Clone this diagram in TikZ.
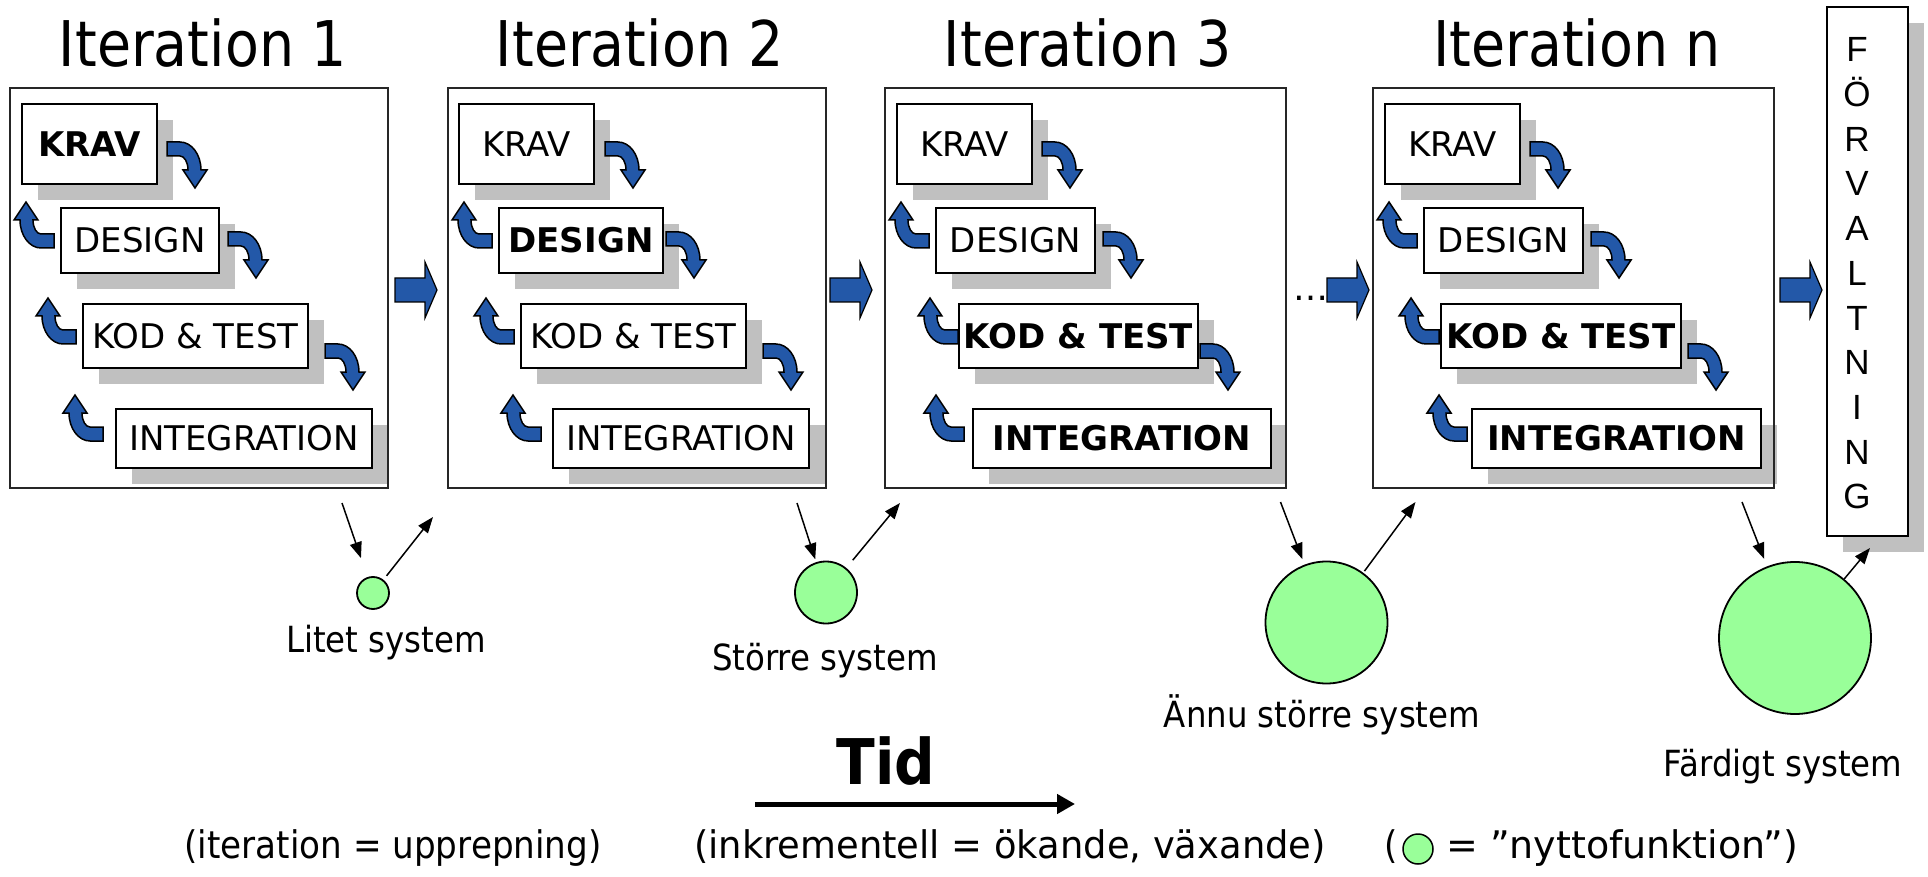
\documentclass[tikz,border=0pt]{standalone}
\usepackage{fontspec}
\setmainfont{DejaVu Sans}
\newfontfamily\narrowfont[FakeStretch=0.9]{DejaVu Sans}
\newfontfamily\midfont[FakeStretch=0.97]{DejaVu Sans}
\newfontfamily\titlefont[FakeStretch=0.88]{DejaVu Sans}
\newfontfamily\arialfont{Liberation Sans}
\usetikzlibrary{shadows,arrows.meta,calc}

\definecolor{stepblue}{HTML}{2358A8}
\definecolor{shadowgray}{HTML}{C0C0C0}
\definecolor{sysgreen}{HTML}{99FF99}

\tikzset{
  % curved blue arrow between two phase boxes (tail top-left at the origin)
  pics/bendarrow/.style={code={
    \draw[fill=stepblue, draw=black, line width=1.5pt, line join=miter]
      (0,0) -- (13,0) arc[start angle=-90, end angle=0, x radius=21, y radius=28]
      -- (40,28) -- (28,46) -- (16,28) -- (21,28)
      arc[start angle=0, end angle=-90, x radius=8, y radius=14] -- (0,14) -- cycle;
  }},
  % wide block arrow between iterations (tail middle at the origin)
  pics/blockarrow/.style={code={
    \draw[fill=stepblue, draw=black, line width=1.2pt, line join=miter]
      (0,-12) -- (30,-12) -- (30,-28) -- (42,0) -- (30,28) -- (30,12) -- (0,12) -- cycle;
  }},
  outerbox/.style={draw=black!85, line width=2pt, minimum height=400, inner sep=0},
  phase/.style={draw=black, line width=1.8pt, fill=white, inner sep=0,
    font=\fontsize{34}{40}\selectfont,
    drop shadow={shadow xshift=16pt, shadow yshift=-16pt, fill=shadowgray, opacity=1}},
  title/.style={anchor=base, inner sep=0, font=\titlefont\fontsize{63}{70}\selectfont},
  syslabel/.style={anchor=base, inner sep=0, font=\narrowfont\fontsize{36}{40}\selectfont},
  bottomtext/.style={inner sep=0, font=\narrowfont\fontsize{38}{44}\selectfont},
  system/.style={circle, draw=black, line width=1.8pt, fill=sysgreen, inner sep=0},
  thinarrow/.style={-{Triangle[length=16pt,width=12pt]}, line width=1.5pt},
}

\begin{document}
\begin{tikzpicture}[x=1pt,y=-1pt]
\fill[white] (0,0) rectangle (1928,877);
\useasboundingbox (0,0) rectangle (1928,877);

% ---- phase boxes, iteration 1
\node[phase, minimum width=135, minimum height=80] (k1) at (89.5,144) {\bfseries KRAV};
\node[phase, minimum width=158, minimum height=65] (d1) at (140,240.5) {DESIGN};
\node[phase, minimum width=225, minimum height=64] (t1) at (195.5,336) {KOD \& TEST};
\node[phase, minimum width=256, minimum height=59] (g1) at (244,438.5) {INTEGRATION};

% ---- iteration 2
\node[phase, minimum width=135, minimum height=80] (k2) at (526.5,144) {KRAV};
\node[phase, minimum width=164, minimum height=65] (d2) at (581,240.5) {\bfseries DESIGN};
\node[phase, minimum width=225, minimum height=64] (t2) at (633.5,336) {KOD \& TEST};
\node[phase, minimum width=256, minimum height=59] (g2) at (681,438.5) {INTEGRATION};

% ---- iteration 3
\node[phase, minimum width=135, minimum height=80] (k3) at (964.5,144) {KRAV};
\node[phase, minimum width=159, minimum height=65] (d3) at (1015.5,240.5) {DESIGN};
\node[phase, minimum width=239, minimum height=64] (t3) at (1078.5,336) {\bfseries KOD \& TEST};
\node[phase, minimum width=298, minimum height=59] (g3) at (1122,438.5) {\bfseries INTEGRATION};

% ---- iteration n
\node[phase, minimum width=135, minimum height=80] (k4) at (1452.5,144) {KRAV};
\node[phase, minimum width=159, minimum height=65] (d4) at (1503.5,240.5) {DESIGN};
\node[phase, minimum width=240, minimum height=64] (t4) at (1561,336) {\bfseries KOD \& TEST};
\node[phase, minimum width=289, minimum height=59] (g4) at (1616.5,438.5) {\bfseries INTEGRATION};

% ---- iteration frames and titles
\node[outerbox, minimum width=378] (it1) at (199,288) {};
\node[outerbox, minimum width=378] (it2) at (637,288) {};
\node[outerbox, minimum width=401] (it3) at (1085.5,288) {};
\node[outerbox, minimum width=401] (it4) at (1573.5,288) {};

\node[title] (ti1) at (203,67) {Iteration 1};
\node[title] (ti2) at (640,67) {Iteration 2};
\node[title] (ti3) at (1088,67) {Iteration 3};
\node[title] (ti4) at (1577,67) {Iteration n};

% ---- curved arrows inside each iteration (down: forward, up: back)
\foreach \b/\ua/\ub in {it1/67/94, it2/67/94, it3/74/80, it4/67/95} {
  \pic at ([shift={(158,55)}]\b.north west) {bendarrow};
  \pic at ([shift={(219,145)}]\b.north west) {bendarrow};
  \pic at ([shift={(316,257)}]\b.north west) {bendarrow};
  \pic[rotate=180] at ([shift={(45,161)}]\b.north west) {bendarrow};
  \pic[rotate=180] at ([shift={(\ua,257)}]\b.north west) {bendarrow};
  \pic[rotate=180] at ([shift={(\ub,354)}]\b.north west) {bendarrow};
}

% ---- maintenance box
\node[draw=black, line width=1.8pt, fill=white, minimum width=81, minimum height=529, inner sep=0,
  drop shadow={shadow xshift=16pt, shadow yshift=-16pt, fill=shadowgray, opacity=1}]
  (forv) at (1867.5,271.5) {};
\node[align=center, inner sep=0, font=\arialfont\fontsize{35}{44.7}\selectfont]
  (forvtext) at (1857,273.5) {F\\Ö\\R\\V\\A\\L\\T\\N\\I\\N\\G};

% ---- arrows between iterations
\pic at ([shift={(6,2)}]it1.east) {blockarrow};
\pic at ([shift={(3,2)}]it2.east) {blockarrow};
\node[anchor=base, inner sep=0, font=\fontsize{35}{40}\selectfont] (dots) at (1311,301) {…};
\pic at ([shift={(40,2)}]it3.east) {blockarrow};
\pic at ([shift={(5,2)}]it4.east) {blockarrow};

% ---- delivered systems
\node[system, minimum size=32] (c1) at (373,593) {};
\node[system, minimum size=62] (c2) at (826,592.5) {};
\node[system, minimum size=122] (c3) at (1326.5,622.5) {};
\node[system, minimum size=152] (c4) at (1795,638) {};

\node[syslabel] (l1) at (386,652) {Litet system};
\node[syslabel] (l2) at (825,670) {Större system};
\node[syslabel] (l3) at (1322,727) {Ännu större system};
\node[syslabel] (l4) at (1783,776) {Färdigt system};

\coordinate (in1) at (342,503);   \coordinate (out1) at (433,517);
\coordinate (in2) at (797,503);   \coordinate (out2) at (900,503);
\coordinate (in3) at (1280.5,502); \coordinate (out3) at (1415.5,502);
\coordinate (in4) at (1742,502);  \coordinate (out4) at (1870,548);

\draw[thinarrow, shorten >=20pt] (in1) -- (c1);
\draw[thinarrow, shorten <=5pt] (c1) -- (out1);
\draw[thinarrow, shorten >=3pt] (in2) -- (c2);
\draw[thinarrow, shorten <=10pt] (c2) -- (out2);
\draw[thinarrow, shorten >=6pt] (in3) -- (c3);
\draw[thinarrow, shorten <=2pt] (c3) -- (out3);
\draw[thinarrow, shorten >=8pt] (in4) -- (c4);
\draw[thinarrow] (c4) -- (out4);

% ---- time axis
\node[anchor=base, inner sep=0, font=\narrowfont\bfseries\fontsize{63}{70}\selectfont] (tid) at (886,784) {Tid};
\coordinate (tstart) at (755,804);
\coordinate (tend) at (1075,804);
\draw[line width=5pt, -{Triangle[length=18pt,width=19pt]}] (tstart) -- (tend);

% ---- explanations
\node[bottomtext, anchor=base] (e1) at (393,858) {(iteration = upprepning)};
\node[bottomtext, anchor=base, font=\midfont\fontsize{38}{44}\selectfont] (e2) at (1010,858) {(inkrementell = ökande, växande)};
\node[bottomtext, anchor=base east] (lp) at (1398,858) {(};
\node[system, line width=1.5pt, minimum size=30] (lc) at (1418,849) {};
\node[bottomtext, anchor=base west, font=\rmfamily\fontsize{38}{44}\selectfont] (lt) at (1446,858) {= ”nyttofunktion”)};
\end{tikzpicture}
\end{document}
